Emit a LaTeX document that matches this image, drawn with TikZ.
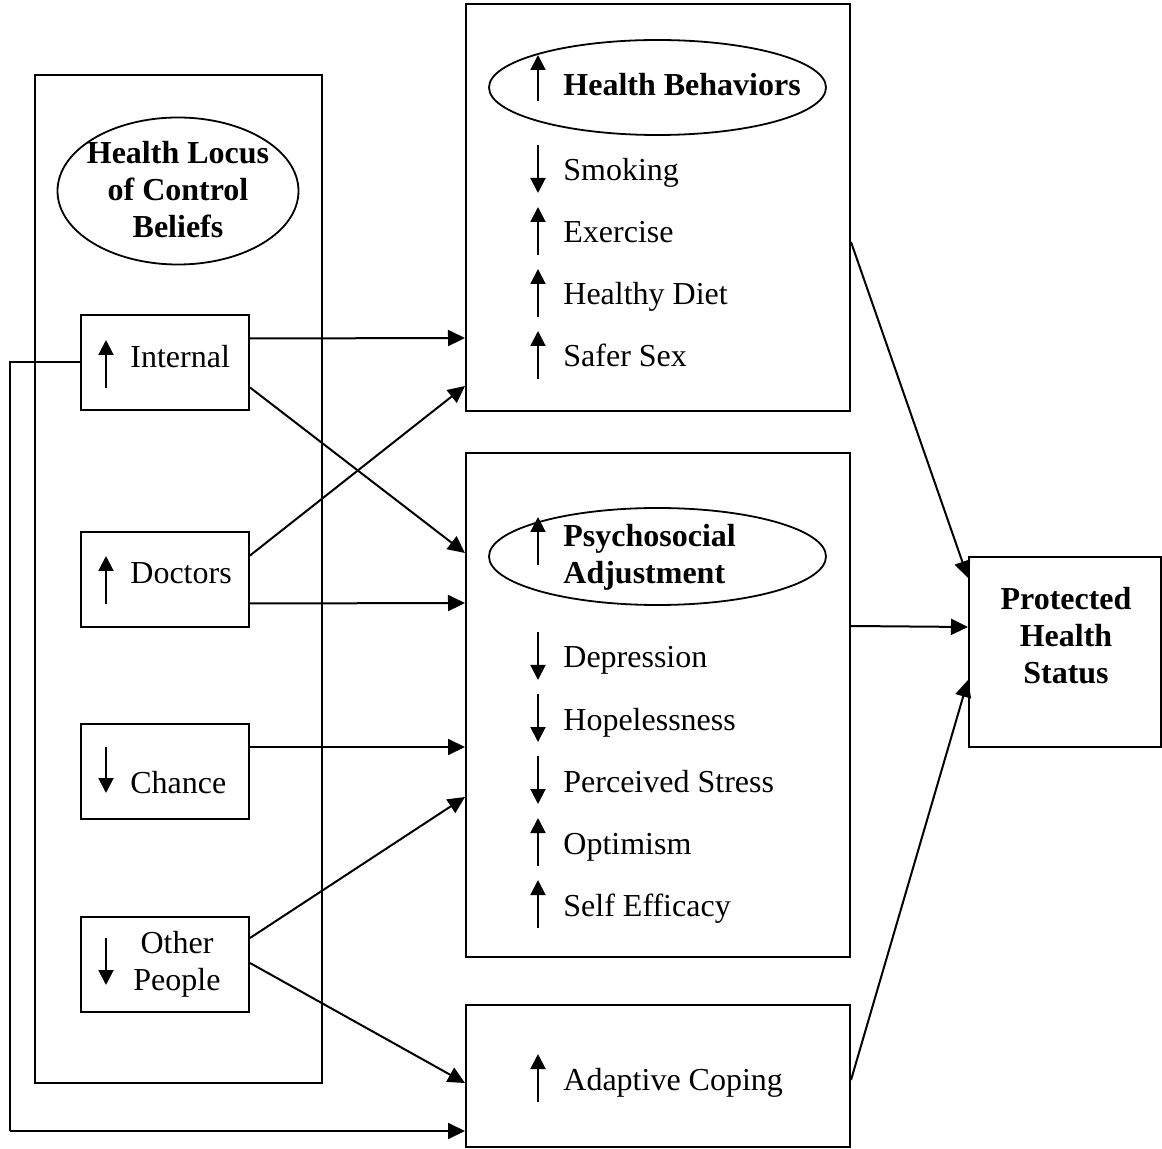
\documentclass[tikz,border=0pt]{standalone}
\usepackage{fontspec}
\setmainfont{Liberation Serif}
\usetikzlibrary{calc,positioning,arrows.meta,shapes.geometric}

\begin{document}
\begin{tikzpicture}[x=0.5pt, y=-0.5pt,
  every node/.style={font=\fontsize{16pt}{18.5pt}\selectfont},
  frame/.style={rectangle, draw, line width=1pt, inner sep=0pt},
  smallbox/.style={frame, minimum width=84pt, minimum height=47.5pt},
  bigbox/.style={frame, minimum width=192pt},
  oval/.style={ellipse, draw, line width=0.9pt, inner sep=0pt},
  head/.style={font=\fontsize{16pt}{18.5pt}\selectfont\bfseries},
  item/.style={anchor=base west, inner sep=0pt},
  every edge/.style={draw, line width=1pt, -{Triangle[length=8.5pt, width=8pt]}},
  ind/.style={draw, line width=1pt, -{Triangle[length=7.5pt, width=7.5pt]}},
]
  \useasboundingbox (0,0) rectangle (1162,1149);

  % === LEFT: locus of control beliefs ===
  \node[frame, minimum width=143.5pt, minimum height=504pt] (locbox) at (178.5,579) {};
  \node[oval, minimum width=120.5pt, minimum height=73.5pt] (locus) at (178,191) {};
  \node[head, align=center, inner sep=0pt] (locuslbl) at (178,190) {Health Locus\\of Control\\Beliefs};

  \node[smallbox] (intl)  at (165,362.5) {};
  \node[smallbox] (doc)   at (165,579.5) {};
  \node[smallbox] (chnc)  at (165,771) {};
  \node[smallbox] (other) at (165,964) {};

  \node[item] (intllbl)  at (130,368) {Internal};
  \node[item] (doclbl)   at (130,584) {Doctors};
  \node[item] (chnclbl)  at (130,793) {Chance};
  \node[anchor=base, inner sep=0pt, align=center] (otherlbl) at (177,990) {Other\\People};

  \draw[ind] (106,388) -- (106,340);
  \draw[ind] (106,604) -- (106,556);
  \draw[ind] (106,747) -- (106,793);
  \draw[ind] (106,938) -- (106,985);

  % === RIGHT: outcome boxes ===
  \node[bigbox, minimum height=203.5pt] (hb)    at (658,207.5) {};
  \node[bigbox, minimum height=252pt]   (psy)   at (658,705) {};
  \node[bigbox, minimum height=71pt]    (cope)  at (658,1076) {};
  \node[frame, minimum width=96pt, minimum height=95pt] (status) at (1065,652) {};
  \node[head, align=center, inner sep=0pt] (statuslbl) at (1066,636) {Protected\\Health\\Status};

  \node[oval, minimum width=168.5pt, minimum height=47.5pt] (hbov)  at (657.5,87.5) {};
  \node[oval, minimum width=168.5pt, minimum height=48.5pt] (psyov) at (657.5,556.5) {};

  \node[item, head] (hblbl) at (563,96) {Health Behaviors};
  \node[anchor=base west, inner sep=0pt, head, align=left] (psylbl) at (563,584)
    {Psychosocial\\Adjustment};
  \draw[ind] (538,101) -- (538,55);
  \draw[ind] (538,565) -- (538,517);

  % behaviour items
  \node[item] (smk)  at (563,181) {Smoking};
  \node[item] (exer) at (563,243) {Exercise};
  \node[item] (diet) at (563,305) {Healthy Diet};
  \node[item] (sex)  at (563,367) {Safer Sex};
  \draw[ind] ($(smk.base west)+(-25,-36)$)  -- ++(0,48);
  \draw[ind] ($(exer.base west)+(-25,12)$)  -- ++(0,-48);
  \draw[ind] ($(diet.base west)+(-25,12)$)  -- ++(0,-48);
  \draw[ind] ($(sex.base west)+(-25,12)$)   -- ++(0,-48);

  % adjustment items
  \node[item] (depr) at (563,668) {Depression};
  \node[item] (hope) at (563,730) {Hopelessness};
  \node[item] (strs) at (563,792) {Perceived Stress};
  \node[item] (opt)  at (563,854) {Optimism};
  \node[item] (eff)  at (563,916) {Self Efficacy};
  \draw[ind] ($(depr.base west)+(-25,-36)$) -- ++(0,48);
  \draw[ind] ($(hope.base west)+(-25,-36)$) -- ++(0,48);
  \draw[ind] ($(strs.base west)+(-25,-36)$) -- ++(0,48);
  \draw[ind] ($(opt.base west)+(-25,12)$)   -- ++(0,-48);
  \draw[ind] ($(eff.base west)+(-25,12)$)   -- ++(0,-48);

  \node[item] (copelbl) at (563,1090) {Adaptive Coping};
  \draw[ind] ($(copelbl.base west)+(-25,12)$) -- ++(0,-48);

  % === Locus -> outcomes ===
  \path ($(intl.east)+(0,-24)$)  edge ($(hb.west)+(0,130.5)$);
  \path ($(intl.east)+(0,25)$)   edge ($(psy.west)+(0,-152)$);
  \path ($(doc.east)+(0,-24)$)   edge ($(hb.west)+(0,178.5)$);
  \path ($(doc.east)+(0,24)$)    edge ($(psy.west)+(0,-102)$);
  \path ($(chnc.east)+(0,-24)$)  edge ($(psy.west)+(0,42)$);
  \path ($(other.east)+(0,-26)$) edge ($(psy.west)+(0,92)$);
  \path ($(other.east)+(0,-1)$)  edge ($(cope.west)+(0,7)$);

  % === Feedback: internal -> coping ===
  \coordinate (fbtop) at (10,362.5);
  \coordinate (fbbot) at (10,1131);
  \draw[line width=1pt] (intl.west) -- (fbtop) -- (fbbot);
  \path (fbbot) edge ($(cope.west)+(0,55)$);

  % === Outcomes -> status ===
  \path ($(hb.east)+(0,34.5)$)    edge ($(status.west)+(0,-74)$);
  \path ($(psy.east)+(0,-79)$)    edge ($(status.west)+(0,-25)$);
  \path ($(cope.east)+(0,4)$)     edge ($(status.west)+(0,28)$);

\end{tikzpicture}
\end{document}
